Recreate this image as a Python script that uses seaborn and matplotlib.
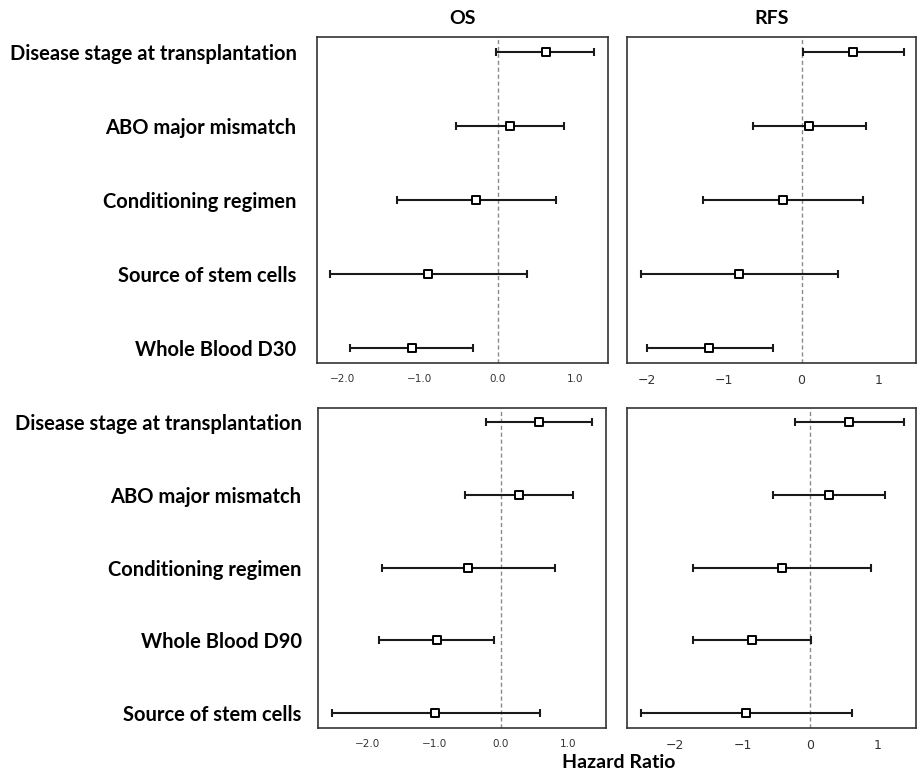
import seaborn as sns
import matplotlib.pyplot as plt
import pandas as pd

# variables shown in each model (top = D30 model, bottom = D90 model)
labels_d30 = ['Disease stage at transplantation', 'ABO major mismatch',
              'Conditioning regimen', 'Source of stem cells', 'Whole Blood D30']
labels_d90 = ['Disease stage at transplantation', 'ABO major mismatch',
              'Conditioning regimen', 'Whole Blood D90', 'Source of stem cells']

# estimate, lower, upper
os_d30_est = [0.62, 0.155, -0.28, -0.90, -1.10]
os_d30_lo = [-0.02, -0.54, -1.30, -2.16, -1.90]
os_d30_hi = [1.24, 0.86, 0.75, 0.38, -0.31]

rfs_d30_est = [0.67, 0.10, -0.245, -0.81, -1.20]
rfs_d30_lo = [0.02, -0.625, -1.28, -2.08, -2.00]
rfs_d30_hi = [1.32, 0.83, 0.80, 0.47, -0.375]

os_d90_est = [0.57, 0.265, -0.49, -0.965, -0.985]
os_d90_lo = [-0.23, -0.535, -1.79, -1.825, -2.54]
os_d90_hi = [1.365, 1.085, 0.815, -0.105, 0.58]

rfs_d90_est = [0.58, 0.28, -0.42, -0.86, -0.945]
rfs_d90_lo = [-0.22, -0.545, -1.74, -1.73, -2.51]
rfs_d90_hi = [1.39, 1.11, 0.905, 0.015, 0.62]

sns.set_style('white')
plt.rcParams['font.family'] = ['DejaVu Sans']

fig = plt.figure(figsize=(9.18, 7.75), dpi=100)

panels = [
    # rect, labels, est, lo, hi, xlim, decimal ticks, label pad (None = no labels), title
    ([0.345, 0.532, 0.317, 0.4206], labels_d30, os_d30_est, os_d30_lo, os_d30_hi, (-2.33, 1.42), True, 10.5, 'OS'),
    ([0.6833, 0.532, 0.3145, 0.4206], labels_d30, rfs_d30_est, rfs_d30_lo, rfs_d30_hi, (-2.256, 1.48), False, None, 'RFS'),
    ([0.3467, 0.061, 0.3134, 0.413], labels_d90, os_d90_est, os_d90_lo, os_d90_hi, (-2.74, 1.575), True, 8, None),
    ([0.6833, 0.061, 0.3145, 0.413], labels_d90, rfs_d90_est, rfs_d90_lo, rfs_d90_hi, (-2.71, 1.575), False, None, None),
]


def fmt_tick(t):
    if t != int(t):
        return ''
    if t < 0:
        return '\u2212%.1f' % abs(t)
    return '%.1f' % t


for rect, labels, est, lo, hi, xlim, decimal, label_pad, title in panels:
    ax = fig.add_axes(rect)
    df = pd.DataFrame({'variable': labels, 'est': est, 'lo': lo, 'hi': hi})
    pos = list(range(len(df)))

    ax.axvline(0, color='#8a8a8a', lw=1.0, ls=(0, (3, 2)), zorder=1)
    ax.errorbar(df['est'], pos,
                xerr=[df['est'] - df['lo'], df['hi'] - df['est']],
                fmt='none', ecolor='#1a1a1a', elinewidth=1.5,
                capsize=2.6, capthick=1.5, zorder=2)
    sns.scatterplot(x=df['est'], y=pos, marker='s', s=40, color='white',
                    edgecolor='black', linewidth=1.4, ax=ax, zorder=3)

    ax.set_xlim(*xlim)
    ax.set_ylim(4.2, -0.2)
    ax.set_xlabel('')
    ax.set_ylabel('')

    for sp in ax.spines.values():
        sp.set_color('#333333')
        sp.set_linewidth(1.2)

    if decimal:
        ticks = [-2.5, -2.0, -1.5, -1.0, -0.5, 0.0, 0.5, 1.0, 1.5]
        ticks = [t for t in ticks if xlim[0] <= t <= xlim[1]]
        ax.set_xticks(ticks)
        ax.set_xticklabels([fmt_tick(t) for t in ticks])
        ax.tick_params(axis='x', length=4, width=1, color='#333333',
                       labelsize=7.5, labelcolor='#333333', pad=4)
    else:
        ax.set_xticks([-2, -1, 0, 1])
        ax.tick_params(axis='x', length=0, labelsize=9,
                       labelcolor='#333333', pad=8)

    ax.set_yticks(pos)
    if label_pad is not None:
        ax.set_yticklabels(df['variable'], family='Lato', fontweight='bold',
                           fontsize=14.5, color='black')
        ax.tick_params(axis='y', length=4, width=1, color='#333333',
                       pad=label_pad)
    else:
        ax.set_yticklabels([])
        ax.tick_params(axis='y', length=0)

    if title:
        ax.set_title(title, family='Lato', fontweight='bold', fontsize=14,
                     pad=9, color='black')

fig.text(0.674, 0.016, 'Hazard Ratio', family='Lato', fontweight='bold',
         fontsize=14, ha='center', va='center', color='black')

fig.savefig('out.png', dpi=100)
